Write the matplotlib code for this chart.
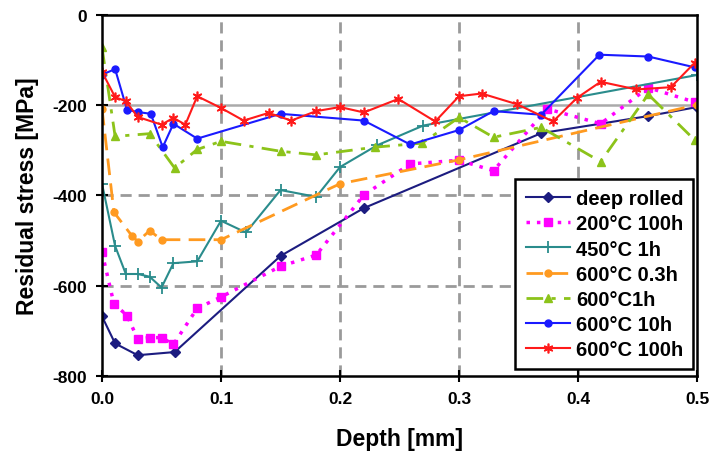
import numpy as np
import matplotlib.pyplot as plt

plt.rcParams['font.family'] = ['Liberation Sans', 'DejaVu Sans']
plt.rcParams['axes.unicode_minus'] = False

# depth [mm] / residual stress [MPa]
x_deep = [0.0, 0.011, 0.03, 0.061, 0.15, 0.22, 0.369, 0.459, 0.5]
y_deep = [-668, -728, -754, -747, -534, -428, -262, -224, -204]

x_200 = [0.0, 0.01, 0.021, 0.03, 0.04, 0.05, 0.06, 0.08, 0.1, 0.15, 0.18, 0.22, 0.259, 0.3, 0.329, 0.374, 0.419, 0.459, 0.498]
y_200 = [-526, -640, -666, -718, -715, -715, -730, -650, -625, -557, -532, -399, -330, -322, -345, -208, -241, -161, -193]

x_450 = [0.0, 0.011, 0.02, 0.03, 0.04, 0.05, 0.06, 0.08, 0.1, 0.121, 0.15, 0.18, 0.2, 0.231, 0.27, 0.5]
y_450 = [-374, -512, -574, -574, -580, -604, -550, -546, -456, -482, -388, -403, -337, -289, -245, -133]

x_603 = [0.0, 0.01, 0.025, 0.03, 0.04, 0.05, 0.1, 0.2, 0.3, 0.5]
y_603 = [-208, -437, -489, -502, -478, -498, -498, -374, -321, -199]

x_601 = [0.0, 0.011, 0.04, 0.061, 0.08, 0.1, 0.15, 0.18, 0.229, 0.269, 0.3, 0.329, 0.369, 0.419, 0.459, 0.498]
y_601 = [-72, -269, -263, -339, -298, -280, -302, -310, -293, -284, -227, -271, -249, -325, -176, -277]

x_610 = [0.0, 0.011, 0.021, 0.03, 0.041, 0.051, 0.06, 0.08, 0.15, 0.22, 0.259, 0.3, 0.329, 0.369, 0.418, 0.459, 0.498]
y_610 = [-132, -120, -210, -215, -219, -293, -241, -274, -219, -234, -287, -255, -213, -221, -88, -92, -116]

x_6100 = [0.0, 0.011, 0.02, 0.03, 0.05, 0.06, 0.07, 0.08, 0.1, 0.119, 0.14, 0.159, 0.18, 0.2, 0.22, 0.249, 0.28, 0.3, 0.319, 0.349, 0.379, 0.399, 0.419, 0.449, 0.478, 0.498]
y_6100 = [-126, -182, -191, -226, -243, -228, -243, -180, -206, -234, -217, -234, -213, -204, -216, -186, -236, -180, -174, -198, -236, -184, -148, -165, -160, -106]

fig = plt.figure(figsize=(7.1, 4.52), dpi=100)
ax = fig.add_axes([0.1437, 0.166, 0.838, 0.7986])

# grid
for gx in [0.1, 0.2, 0.3, 0.4]:
    ax.axvline(gx, color='#9a9a9a', ls=(0, (4, 2.5)), lw=2, zorder=0)
for gy in [-400, -600]:
    ax.axhline(gy, color='#9a9a9a', ls=(0, (4, 2.5)), lw=2, zorder=0)
ax.axhline(-200, color='#aaaaaa', ls='-', lw=1.8, zorder=0)

ax.plot(x_deep, y_deep, color='#1c1c80', lw=1.5, marker='D', ms=5, label='deep rolled')
ax.plot(x_200, y_200, color='#ff00ff', lw=2.5, ls=(0, (1, 2)), marker='s', ms=6,
        label='200°C 100h')
ax.plot(x_450, y_450, color='#2a8c8c', lw=1.5, marker='+', ms=8, mew=1.3, label='450°C 1h')
ax.plot(x_603, y_603, color='#ff9a20', lw=2, ls=(0, (6, 3)), marker='o', ms=5,
        label='600°C 0.3h')
ax.plot(x_601, y_601, color='#8cc31a', lw=2, ls=(0, (6, 3, 1.5, 3)), marker='^', ms=6,
        label='600°C1h')
ax.plot(x_610, y_610, color='#1a1aff', lw=1.5, marker='o', ms=5, label='600°C 10h')
ax.plot(x_6100, y_6100, color='#ff1a1a', lw=1.5, marker=(6, 2, 0), ms=7, mew=1.2,
        label='600°C 100h')

ax.set_xlim(0, 0.5)
ax.set_ylim(-800, 0)
ax.set_xticks([0.0, 0.1, 0.2, 0.3, 0.4, 0.5])
ax.set_xticklabels(['0.0', '0.1', '0.2', '0.3', '0.4', '0.5'])
ax.set_yticks([0, -200, -400, -600, -800])
ax.tick_params(direction='inout', length=8, width=1.5, labelsize=12.5)
ax.tick_params(axis='x', pad=7)
ax.tick_params(axis='y', pad=7)
for lab in ax.get_xticklabels() + ax.get_yticklabels():
    lab.set_fontweight('bold')
for s in ax.spines.values():
    s.set_linewidth(1.8)
    s.set_color('black')

ax.set_xlabel('Depth [mm]', fontsize=16.5, fontweight='bold', labelpad=15)
ax.set_ylabel('Residual stress [MPa]', fontsize=16.5, fontweight='bold', labelpad=9)

leg = ax.legend(loc='lower right', bbox_to_anchor=(0.994, 0.02),
                prop={'weight': 'bold', 'size': 14.5}, frameon=True, fancybox=False,
                handlelength=2.2, borderpad=0.5, labelspacing=0.3, handletextpad=0.3,
                borderaxespad=0)
leg.get_frame().set_edgecolor('black')
leg.get_frame().set_linewidth(1.8)
leg.get_frame().set_alpha(1)

fig.savefig('out.png', dpi=100)
